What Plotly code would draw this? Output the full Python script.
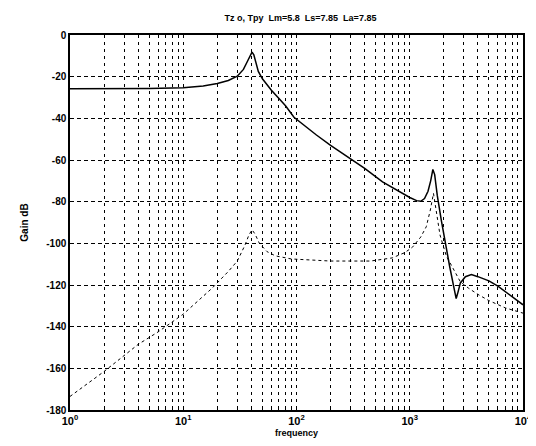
import plotly.graph_objects as go

# Solid curve (frequency, gain dB)
solid_f = [1, 2, 5, 10, 15, 20, 25, 30, 34, 37, 39, 40.5, 42, 44, 46, 50, 60, 70, 80, 95,
           120, 150, 200, 300, 400, 575, 800, 1000, 1150, 1250, 1350, 1450, 1530, 1600,
           1660, 1750, 1900, 2050, 2250, 2450, 2570, 2650, 2800, 3100, 3500, 4000, 5000,
           6000, 7500, 10000]
solid_db = [-25.8, -25.8, -25.7, -25.3, -24.5, -23.3, -21.8, -19.8, -16.5, -12.5, -9.5, -8.2,
            -9.5, -14, -17.5, -21, -26.5, -30.5, -34, -39.5, -44, -48, -53, -59.5, -64, -70.5,
            -75, -78, -79.5, -79.8, -78.5, -75, -70, -64.5, -67, -77, -89, -99.5, -111, -121,
            -126.5, -124, -119, -116, -115, -116, -118, -120.5, -124.5, -129.5]

# Dashed curve (frequency, gain dB)
dash_f = [1, 2, 4, 6, 10, 18, 25, 30, 35, 38, 40.5, 43, 47, 55, 65, 90, 200, 450, 700, 900,
          1050, 1250, 1400, 1520, 1620, 1700, 1850, 2100, 2400, 2800, 3300, 4000, 5000,
          7000, 10000]
dash_db = [-173.5, -161.5, -148.5, -142.5, -134, -121.5, -113.5, -108.5, -101, -96, -93.5,
           -95.5, -100, -104, -106, -107.5, -108.5, -108.5, -107, -104.5, -102, -97, -92,
           -84, -76, -84, -96, -106, -112, -118.5, -121.5, -124.5, -127.5, -131, -133.5]

title_text = "Tz o, Tpy  Lm=5.8  Ls=7.85  La=7.85"
x_title = "frequency"
y_title = "Gain dB"
x_decades = [1, 10, 100, 1000, 10000]
x_decade_labels = ["10<sup>0</sup>", "10<sup>1</sup>", "10<sup>2</sup>", "10<sup>3</sup>", "10<sup>4</sup>"]
y_ticks = [0, -20, -40, -60, -80, -100, -120, -140, -160, -180]

x_minor = [d * m for d in x_decades[:-1] for m in range(2, 10)]

fam = "Liberation Sans, Arial, sans-serif"
font = dict(family=fam, size=10, color="black")

fig = go.Figure()
fig.add_trace(go.Scatter(x=dash_f, y=dash_db, mode="lines",
                         line=dict(color="black", width=1, dash="3px,3px"),
                         showlegend=False))
fig.add_trace(go.Scatter(x=solid_f, y=solid_db, mode="lines",
                         line=dict(color="black", width=1.5),
                         showlegend=False))

fig.update_layout(
    width=536, height=446,
    margin=dict(l=62, r=13, t=27, b=44),
    paper_bgcolor="white", plot_bgcolor="white",
    font=font,
    title=dict(text="<b>" + title_text + "</b>", x=(62 + 523) / 2 / 536, xanchor="center",
               y=1 - 10 / 446, yanchor="middle", font=dict(size=9)),
    xaxis=dict(type="log", range=[0, 4], tickvals=x_decades, ticktext=x_decade_labels,
               showgrid=True, gridcolor="black", gridwidth=1, griddash="3px,4px",
               minor=dict(tickvals=x_minor, showgrid=True, gridcolor="black", gridwidth=1,
                          griddash="3px,4px", ticks="inside", ticklen=3, tickcolor="black"),
               showline=True, linecolor="black", linewidth=1.5, mirror=True,
               ticks="inside", ticklen=4, tickcolor="black",
               tickfont=dict(size=11, family=fam, weight="bold"),
               zeroline=False,
               title=dict(text="<b>" + x_title + "</b>", font=dict(size=9), standoff=4)),
    yaxis=dict(range=[-180, 0], tickvals=y_ticks, ticktext=[str(v) for v in y_ticks],
               showgrid=True, gridcolor="black", gridwidth=1, griddash="4px,3px",
               showline=True, linecolor="black", linewidth=1.5, mirror=True,
               ticks="inside", ticklen=4, tickcolor="black",
               tickfont=dict(size=10, family=fam, weight="bold"),
               zeroline=False,
               title=dict(text="<b>" + y_title + "</b>", font=dict(size=10), standoff=16)),
)

fig.write_html("out.html")
